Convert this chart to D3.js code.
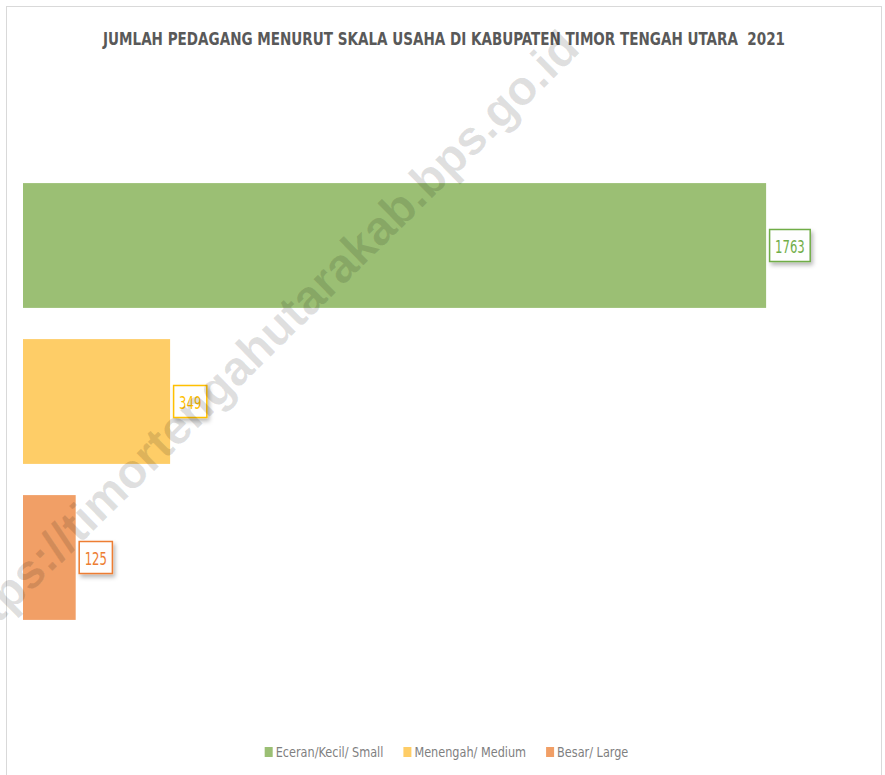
<!DOCTYPE html>
<html>
<head>
<meta charset="utf-8">
<script src="https://cdn.jsdelivr.net/npm/d3@7"></script>
<style>
  html, body { margin: 0; padding: 0; background: #ffffff; }
  svg { display: block; }
  .cond { font-family: 'Liberation Sans Narrow', 'DejaVu Sans Condensed', 'Roboto Condensed', sans-serif; }
</style>
</head>
<body>
<svg id="chart" width="885" height="775"></svg>
<script>
const titleText = "JUMLAH PEDAGANG MENURUT SKALA USAHA DI KABUPATEN TIMOR TENGAH UTARA  2021";
const seriesNames = ["Eceran/Kecil/ Small", "Menengah/ Medium", "Besar/ Large"];
const seriesValues = [1763, 349, 125];
const barColors = ["#9BBF74", "#FECD67", "#F19F66"];
const accentColors = ["#70AD47", "#FFC000", "#ED7D31"];
const axisMax = 2000;
const watermarkText = "https://timortengahutarakab.bps.go.id";

const svg = d3.select("#chart");
const W = 885, H = 775;

const defs = svg.append("defs");
const f = defs.append("filter").attr("id", "shadow").attr("x", "-30%").attr("y", "-30%").attr("width", "170%").attr("height", "170%");
f.append("feDropShadow").attr("dx", 2).attr("dy", 3).attr("stdDeviation", 2.2)
  .attr("flood-color", "#000").attr("flood-opacity", 0.28);

// background + frame
svg.append("rect").attr("width", W).attr("height", H).attr("fill", "#ffffff");
svg.append("rect").attr("x", 6.5).attr("y", 6.5).attr("width", 875).attr("height", 800)
  .attr("fill", "#ffffff").attr("stroke", "#d9d9d9").attr("stroke-width", 1);

// title
svg.append("text").attr("class", "cond")
  .attr("x", 444).attr("y", 45)
  .attr("text-anchor", "middle")
  .attr("font-size", 18).attr("font-weight", "bold")
  .attr("fill", "#595959")
  .attr("textLength", 682).attr("lengthAdjust", "spacingAndGlyphs")
  .style("white-space", "pre")
  .text(titleText);

// scales
const x = d3.scaleLinear().domain([0, axisMax]).range([23, 866]);
const y = d3.scaleBand().domain(seriesNames).range([167.5, 635.5]).paddingInner(0.2).paddingOuter(0.1);

const data = seriesNames.map((n, i) => ({ name: n, value: seriesValues[i], color: barColors[i], accent: accentColors[i] }));

// bars
svg.append("g").selectAll("rect").data(data).join("rect")
  .attr("x", x(0))
  .attr("y", d => y(d.name))
  .attr("width", d => x(d.value) - x(0))
  .attr("height", y.bandwidth())
  .attr("fill", d => d.color);

// labels
const lg = svg.append("g").selectAll("g").data(data).join("g");
lg.each(function(d) {
  const g = d3.select(this);
  const cy = y(d.name) + y.bandwidth() / 2;
  const box = g.append("rect");
  const txt = String(d.value);
  const tw = txt.length * 7.4;
  const t = g.append("text").attr("class", "cond")
    .attr("font-size", 17).attr("fill", d.accent)
    .attr("dominant-baseline", "central")
    .attr("textLength", tw).attr("lengthAdjust", "spacingAndGlyphs")
    .text(txt);
  const bx = x(d.value) + 3.5;
  const bw = tw + 11;
  box.attr("x", bx).attr("y", cy - 16).attr("width", bw).attr("height", 32)
    .attr("fill", "#fefefe").attr("stroke", d.accent).attr("stroke-width", 1.5)
    .attr("filter", "url(#shadow)");
  t.attr("x", bx + 5.5).attr("y", cy + 1);
});

// legend
const legend = svg.append("g");
const items = legend.selectAll("g").data(data).join("g");
items.append("rect").attr("width", 8).attr("height", 10).attr("fill", d => d.color);
const lt = items.append("text").attr("class", "cond")
  .attr("x", 11).attr("y", 9.5)
  .attr("font-size", 14.5).attr("fill", "#7F7F7F")
  .text(d => d.name);
lt.each(function() {
  const w = this.getComputedTextLength() * 0.865;
  d3.select(this).attr("textLength", w).attr("lengthAdjust", "spacingAndGlyphs");
});
let widths = [];
lt.each(function() { widths.push(11 + +this.getAttribute("textLength")); });
const gap = 20;
const total = d3.sum(widths) + gap * (widths.length - 1);
let cx = 446.5 - total / 2;
items.attr("transform", (d, i) => { const tx = cx; cx += widths[i] + gap; return `translate(${tx},747)`; });

// watermark
svg.append("text")
  .attr("transform", "translate(262,342) rotate(-44.5)")
  .attr("text-anchor", "middle").attr("dominant-baseline", "central")
  .attr("font-family", "'Liberation Sans', Arial, sans-serif")
  .attr("font-weight", "bold").attr("font-size", 48)
  .attr("fill", "#000").attr("fill-opacity", 0.12)
  .text(watermarkText);
</script>
</body>
</html>
